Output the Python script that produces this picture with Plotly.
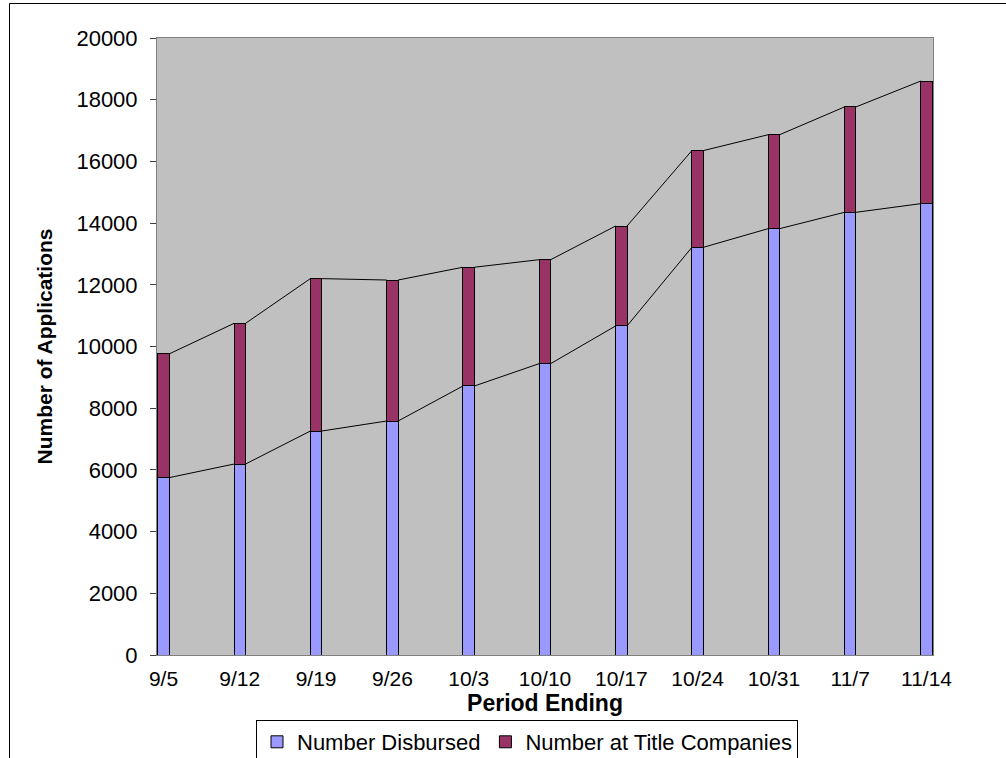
import plotly.graph_objects as go

periods = ["9/5", "9/12", "9/19", "9/26", "10/3", "10/10", "10/17", "10/24", "10/31", "11/7", "11/14"]
disbursed = [5750, 6190, 7260, 7585, 8720, 9445, 10665, 13215, 13820, 14350, 14630]
at_title = [4010, 4560, 4940, 4570, 3850, 3370, 3240, 3135, 3045, 3415, 3975]

W, H = 1006, 758
L, R, T, B = 157, 73, 38, 103
BAR_W = 0.15
FONT = "Liberation Sans, Arial, sans-serif"

xs = list(range(len(periods)))
totals = [d + t for d, t in zip(disbursed, at_title)]

fig = go.Figure()
fig.add_trace(go.Bar(
    x=xs, y=disbursed, name="Number Disbursed", width=BAR_W,
    marker=dict(color="#9999FF", line=dict(color="#000000", width=1)),
))
fig.add_trace(go.Bar(
    x=xs, y=at_title, name="Number at Title Companies", width=BAR_W,
    marker=dict(color="#993366", line=dict(color="#000000", width=1)),
))


def series_line(vals):
    # connect each bar's top-right corner to the next bar's top-left corner
    lx, ly = [], []
    for i in range(len(vals) - 1):
        lx += [xs[i] + BAR_W / 2, xs[i + 1] - BAR_W / 2, None]
        ly += [vals[i], vals[i + 1], None]
    return go.Scatter(x=lx, y=ly, mode="lines", showlegend=False, hoverinfo="skip",
                      line=dict(color="#000000", width=1))


fig.add_trace(series_line(disbursed))
fig.add_trace(series_line(totals))

pw, ph = W - L - R, H - T - B


def px_x(p):
    return (p - L) / pw


def px_y(p):
    return (H - B - p) / ph


# outer frame of the chart
fig.add_shape(type="rect", xref="paper", yref="paper",
              x0=px_x(9.5), x1=px_x(1020), y0=px_y(780), y1=px_y(3.5),
              line=dict(color="#000000", width=1), layer="below")

fig.update_layout(
    width=W, height=H,
    margin=dict(l=L, r=R, t=T, b=B, autoexpand=False),
    barmode="stack",
    paper_bgcolor="#FFFFFF",
    plot_bgcolor="#C0C0C0",
    font=dict(family=FONT, color="#000000", size=20),
    legend=dict(
        orientation="h", x=px_x(256), y=px_y(720), xanchor="left", yanchor="top",
        bordercolor="#000000", borderwidth=1, bgcolor="#FFFFFF",
        font=dict(family=FONT, size=22), traceorder="normal",
        itemwidth=30, tracegroupgap=0,
    ),
    xaxis=dict(
        range=[-0.085, 10.085], tickvals=xs, ticktext=periods,
        showgrid=False, zeroline=False, showline=True, linecolor="#808080",
        mirror=True, ticks="", tickfont=dict(size=21), ticklabelstandoff=5,
        title=dict(text="<b>Period Ending</b>", font=dict(size=23), standoff=2),
    ),
    yaxis=dict(
        range=[0, 20000], dtick=2000, tickformat="d",
        showgrid=False, zeroline=False, showline=True, linecolor="#808080",
        mirror=True, ticks="outside", ticklen=6, tickcolor="#404040",
        tickfont=dict(size=22), ticklabelstandoff=8,
        title=dict(text="<b>Number of Applications</b>", font=dict(size=21), standoff=18),
    ),
)

fig.write_html("out.html")
